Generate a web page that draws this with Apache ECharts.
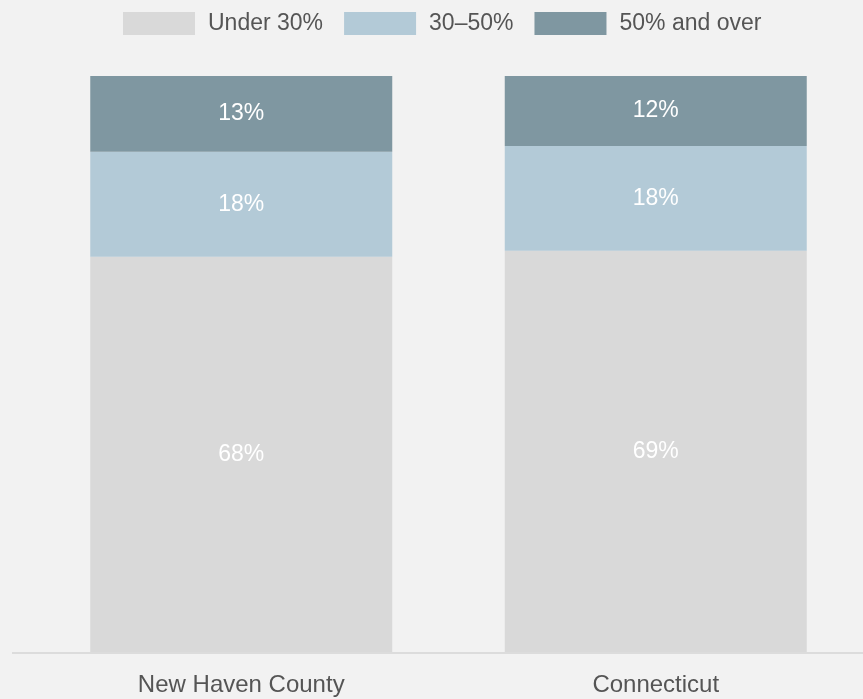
<!DOCTYPE html>
<html>
<head>
<meta charset="utf-8">
<script src="https://cdn.jsdelivr.net/npm/echarts@6/dist/echarts.min.js"></script>
<style>
  html, body { margin: 0; padding: 0; background: #f2f2f2; }
  #chart { width: 863px; height: 699px; }
</style>
</head>
<body>
<div id="chart"></div>
<script>
// data
var categories = ['New Haven County', 'Connecticut'];
var seriesNames = ['Under 30%', '30\u201350%', '50% and over'];
var under30 = [68, 69];
var from30to50 = [18, 18];
var over50 = [13, 12];
var barColors = ['#d9d9d9', '#b3cad7', '#7f97a1'];

var chart = echarts.init(document.getElementById('chart'));
var font = '"Liberation Sans", Arial, Helvetica, sans-serif';

function makeSeries(name, data, color) {
  return {
    name: name,
    type: 'bar',
    stack: 'total',
    barWidth: 302,
    itemStyle: { color: color },
    label: {
      show: true,
      position: 'inside',
      color: '#ffffff',
      fontSize: 23,
      fontFamily: font,
      formatter: '{c}%'
    },
    emphasis: { disabled: true },
    data: data
  };
}

var gridBottom = 46;

chart.setOption({
  backgroundColor: '#f2f2f2',
  animation: false,
  textStyle: { fontFamily: font },
  color: barColors,
  legend: {
    left: 123,
    top: 12,
    padding: 0,
    icon: 'rect',
    itemWidth: 72,
    itemHeight: 23,
    itemGap: 21,
    selectedMode: false,
    textStyle: { color: '#555', fontSize: 23, fontFamily: font, padding: [0, 0, 0, 8] },
    data: seriesNames
  },
  grid: { left: 34, right: 0, top: 76, bottom: gridBottom },
  xAxis: {
    type: 'category',
    data: categories,
    axisLine: { show: false },
    axisTick: { show: false },
    axisLabel: { color: '#555', fontSize: 24, fontFamily: font, margin: 20 }
  },
  yAxis: {
    type: 'value',
    min: 0,
    max: 99,
    show: false,
    splitLine: { show: false }
  },
  // baseline runs a bit past the grid on the left, like the original
  graphic: [{
    type: 'line',
    z: 100,
    shape: { x1: 12, y1: 699 - gridBottom, x2: 863, y2: 699 - gridBottom },
    style: { stroke: '#dcdcdc', lineWidth: 2 }
  }],
  series: [
    makeSeries(seriesNames[0], under30, barColors[0]),
    makeSeries(seriesNames[1], from30to50, barColors[1]),
    makeSeries(seriesNames[2], over50, barColors[2])
  ]
});
</script>
</body>
</html>
